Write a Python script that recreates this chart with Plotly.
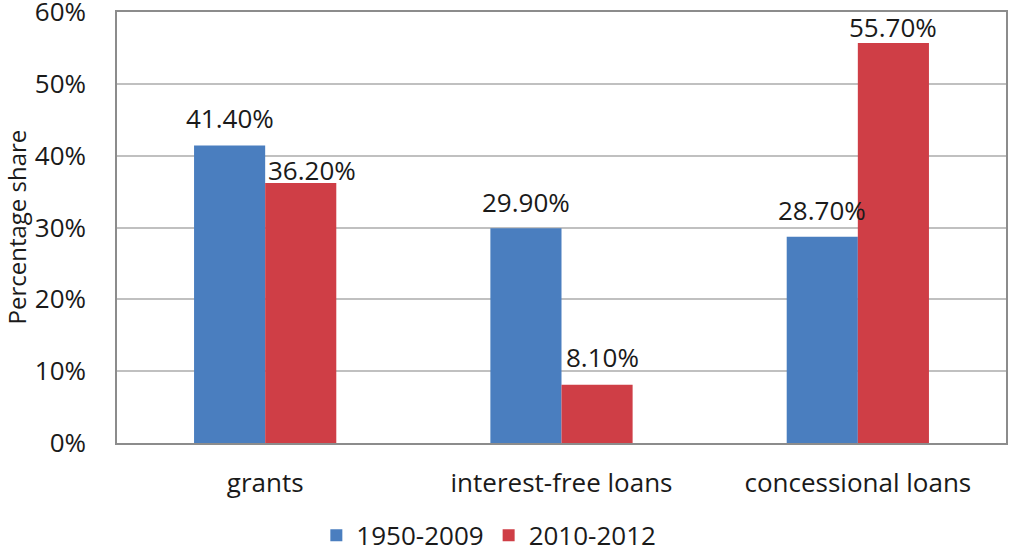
import plotly.graph_objects as go

# Share of aid by type, two periods
categories = ["grants", "interest-free loans", "concessional loans"]
period_labels = ["1950-2009", "2010-2012"]
share_1950_2009 = [41.4, 29.9, 28.7]
share_2010_2012 = [36.2, 8.1, 55.7]
y_ticks = [0, 10, 20, 30, 40, 50, 60]
y_tick_text = [f"{t}%" for t in y_ticks]
y_title = "Percentage share"

# styling
colors = ["#4A7EBF", "#CF3E46"]
font_family = "Open Sans, Noto Sans, sans-serif"
font_size = 26
text_color = "#1a1a1a"
# label offsets (px) relative to the top of each bar: [series][category]
label_yshift = [[28, 26, 27], [13, 28, 16]]
label_xshift = [[0, 0, 0], [11, 5, 0]]

series = [share_1950_2009, share_2010_2012]

fig = go.Figure()
for name, vals, col in zip(period_labels, series, colors):
    fig.add_trace(go.Bar(
        x=categories, y=vals, name=name,
        marker=dict(color=col, line=dict(width=0)),
    ))

# value labels above bars, placed at each bar's offset group position
n_series = len(series)
for si, vals in enumerate(series):
    for ci, v in enumerate(vals):
        fig.add_annotation(
            x=ci, y=v, xref="x", yref="y",
            text=f"{v:.2f}%", showarrow=False,
            xanchor="center", yanchor="middle",
            xshift=(si - (n_series - 1) / 2) * 71 + label_xshift[si][ci],
            yshift=label_yshift[si][ci],
            font=dict(family=font_family, size=font_size, color=text_color),
        )

# y axis title, placed at the far left of the figure
fig.add_annotation(
    text=y_title, xref="paper", yref="paper", x=0, y=0.5,
    xanchor="center", yanchor="middle", xshift=-101, textangle=-90,
    showarrow=False, borderpad=0,
    font=dict(family=font_family, size=24, color=text_color),
)

fig.update_layout(
    width=1010, height=553,
    margin=dict(l=117, r=4, t=12, b=110, autoexpand=False),
    paper_bgcolor="white", plot_bgcolor="white",
    barmode="group", bargap=0.52, bargroupgap=0,
    font=dict(family=font_family, size=font_size, color=text_color),
    showlegend=True,
    legend=dict(
        orientation="h", xref="container", yref="container",
        x=0.484, xanchor="center", y=0.032, yanchor="middle",
        font=dict(family=font_family, size=font_size, color=text_color),
        itemwidth=30, traceorder="normal",
    ),
)
fig.update_xaxes(
    type="category", showgrid=False, zeroline=False, automargin=False,
    showline=True, linecolor="#8C8C8C", linewidth=1.5, mirror=True,
    ticks="", ticklabelstandoff=16,
    tickfont=dict(family=font_family, size=font_size, color=text_color),
)
fig.update_yaxes(
    range=[0, 60], tickmode="array", tickvals=y_ticks, ticktext=y_tick_text,
    showgrid=True, gridcolor="#C0C0C0", gridwidth=1.5, zeroline=False,
    automargin=False,
    showline=True, linecolor="#8C8C8C", linewidth=1.5, mirror=True,
    ticks="outside", ticklen=24, tickcolor="rgba(0,0,0,0)",
    ticklabeloverflow="allow",
    tickfont=dict(family=font_family, size=font_size, color=text_color),
)

fig.write_html("out.html")
